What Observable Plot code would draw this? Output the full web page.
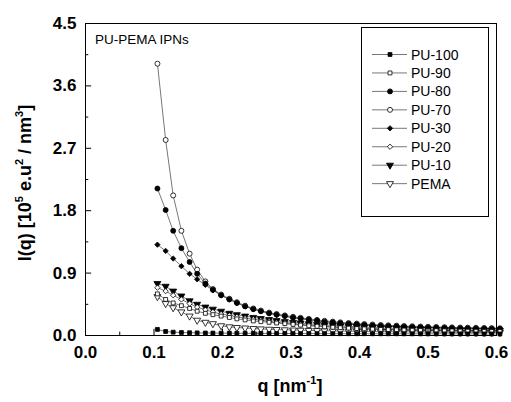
<!DOCTYPE html>
<html><head><meta charset="utf-8">
<script src="https://cdn.jsdelivr.net/npm/d3@7"></script>
<script src="https://cdn.jsdelivr.net/npm/@observablehq/plot@0.6"></script>
<style>body{margin:0;background:#fff;font-family:"Liberation Sans",Arial,sans-serif;}</style>
</head><body><div id="chart"></div>
<script>
const q = [0.105,0.117,0.128,0.140,0.152,0.163,0.175,0.186,0.198,0.210,0.221,0.233,0.245,0.256,0.268,0.279,0.291,0.303,0.314,0.326,0.338,0.349,0.361,0.372,0.384,0.396,0.407,0.419,0.431,0.442,0.454,0.465,0.477,0.489,0.500,0.512,0.524,0.535,0.547,0.558,0.570,0.582,0.593,0.605];
const pu100 = [0.088,0.058,0.048,0.043,0.040,0.038,0.036,0.035,0.034,0.033,0.032,0.031,0.031,0.030,0.030,0.029,0.029,0.028,0.028,0.028,0.027,0.027,0.027,0.026,0.026,0.026,0.026,0.025,0.025,0.025,0.025,0.024,0.024,0.024,0.024,0.024,0.023,0.023,0.023,0.023,0.023,0.022,0.022,0.022];
const pu90 = [0.60,0.52,0.47,0.43,0.39,0.35,0.32,0.30,0.28,0.26,0.24,0.225,0.21,0.20,0.19,0.18,0.17,0.16,0.15,0.14,0.132,0.125,0.118,0.112,0.106,0.1,0.096,0.092,0.088,0.085,0.082,0.079,0.076,0.074,0.072,0.07,0.068,0.066,0.064,0.062,0.061,0.06,0.059,0.058];
const pu80 = [2.12,1.81,1.51,1.26,1.06,0.89,0.75,0.66,0.58,0.52,0.47,0.42,0.38,0.35,0.32,0.30,0.28,0.26,0.245,0.23,0.215,0.20,0.19,0.18,0.17,0.162,0.155,0.148,0.142,0.137,0.132,0.128,0.124,0.12,0.117,0.114,0.111,0.108,0.106,0.104,0.102,0.10,0.098,0.096];
const pu70 = [3.92,2.82,2.02,1.51,1.18,0.95,0.78,0.67,0.59,0.53,0.48,0.43,0.39,0.36,0.33,0.31,0.29,0.27,0.255,0.24,0.225,0.212,0.20,0.19,0.18,0.172,0.165,0.158,0.152,0.147,0.142,0.137,0.133,0.129,0.126,0.123,0.12,0.117,0.115,0.113,0.111,0.109,0.107,0.105];
const pu30 = [1.31,1.22,1.11,1.00,0.89,0.81,0.73,0.65,0.58,0.52,0.47,0.42,0.38,0.35,0.32,0.295,0.275,0.255,0.24,0.225,0.21,0.197,0.185,0.175,0.165,0.157,0.15,0.143,0.137,0.132,0.127,0.122,0.118,0.114,0.111,0.108,0.105,0.102,0.1,0.098,0.096,0.094,0.092,0.09];
const pu20 = [0.69,0.64,0.58,0.52,0.46,0.41,0.37,0.34,0.31,0.29,0.27,0.25,0.235,0.22,0.205,0.19,0.18,0.17,0.16,0.15,0.142,0.135,0.128,0.122,0.116,0.11,0.105,0.1,0.096,0.092,0.089,0.086,0.083,0.08,0.078,0.076,0.074,0.072,0.07,0.068,0.067,0.066,0.065,0.064];
const pu10 = [0.75,0.71,0.64,0.57,0.50,0.45,0.41,0.38,0.35,0.32,0.30,0.28,0.26,0.245,0.23,0.215,0.20,0.19,0.18,0.17,0.16,0.152,0.145,0.138,0.132,0.126,0.12,0.115,0.11,0.106,0.102,0.098,0.095,0.092,0.089,0.086,0.084,0.082,0.08,0.078,0.076,0.075,0.074,0.073];
const pema = [0.56,0.46,0.40,0.34,0.28,0.22,0.19,0.17,0.14,0.125,0.115,0.108,0.10,0.095,0.09,0.086,0.082,0.079,0.076,0.073,0.071,0.068,0.066,0.064,0.062,0.06,0.058,0.056,0.055,0.054,0.053,0.052,0.051,0.05,0.049,0.048,0.047,0.046,0.045,0.045,0.044,0.044,0.043,0.043];

const seriesNames = ["PU-100","PU-90","PU-80","PU-70","PU-30","PU-20","PU-10","PEMA"];
const seriesValues = [pu100, pu90, pu80, pu70, pu30, pu20, pu10, pema];
const xTicks = [0, 0.1, 0.2, 0.3, 0.4, 0.5, 0.6];
const xMinor = [0.05, 0.15, 0.25, 0.35, 0.45, 0.55];
const yTicks = [0, 0.9, 1.8, 2.7, 3.6, 4.5];
const yMinor = [0.45, 1.35, 2.25, 3.15, 4.05];

const styles = {
  "PU-100": {symbol: "square", fill: "black", r: 2.2, rotate: 0},
  "PU-90":  {symbol: "square", fill: "white", r: 2.2, rotate: 0},
  "PU-80":  {symbol: "circle", fill: "black", r: 2.5, rotate: 0},
  "PU-70":  {symbol: "circle", fill: "white", r: 2.5, rotate: 0},
  "PU-30":  {symbol: "diamond2", fill: "black", r: 2.4, rotate: 0},
  "PU-20":  {symbol: "diamond2", fill: "white", r: 2.4, rotate: 0},
  "PU-10":  {symbol: "triangle", fill: "black", r: 2.6, rotate: 180},
  "PEMA":   {symbol: "triangle", fill: "white", r: 2.6, rotate: 180}
};

const rows = seriesNames.flatMap((name, k) => q.map((qq, i) => ({series: name, q: qq, v: seriesValues[k][i]})));

const font = "Liberation Sans, Arial, sans-serif";
const W = 511, H = 402, ML = 85, MR = 15, MT = 23, MB = 67;

const dotMarks = seriesNames.slice().reverse().map(name => {
  const s = styles[name];
  return Plot.dot(rows.filter(d => d.series === name), {
    x: "q", y: "v", symbol: s.symbol, r: s.r, fill: s.fill,
    stroke: "black", strokeWidth: 0.8, rotate: s.rotate
  });
});

const chart = Plot.plot({
  width: W, height: H,
  marginLeft: ML, marginRight: MR, marginTop: MT, marginBottom: MB,
  style: {fontFamily: font, background: "white", overflow: "visible"},
  x: {domain: [0, 0.6]},
  y: {domain: [0, 4.5]},
  marks: [
    Plot.line(rows, {x: "q", y: "v", z: "series", stroke: "#555", strokeWidth: 0.8}),
    ...dotMarks,
    Plot.ruleX(xTicks, {y1: 0, y2: 0.09, stroke: "black"}),
    Plot.ruleX(xMinor, {y1: 0, y2: 0.048, stroke: "black"}),
    Plot.ruleY(yTicks, {x1: 0, x2: 0.009, stroke: "black"}),
    Plot.ruleY(yMinor, {x1: 0, x2: 0.0048, stroke: "black"}),
    Plot.frame({stroke: "black", strokeWidth: 1}),
    Plot.axisX({ticks: xTicks, tickSize: 0, tickPadding: 10, tickFormat: d => d.toFixed(1), fontSize: 17, fontWeight: "bold", label: null, fill: "black"}),
    Plot.axisY({ticks: yTicks, tickSize: 0, tickPadding: 9, tickFormat: d => d.toFixed(1), fontSize: 17, fontWeight: "bold", label: null, fill: "black"})
  ]
});

document.getElementById("chart").appendChild(chart);

const svg = d3.select(chart);
// inner title
svg.append("text").attr("x", 95).attr("y", 44).attr("text-anchor", "start").attr("font-size", 13.5).attr("font-family", font).attr("fill", "black").text("PU-PEMA IPNs");

// x label
const xl = svg.append("text").attr("x", 290).attr("y", 392).attr("text-anchor", "middle")
  .attr("font-size", 18).attr("font-weight", "bold").attr("font-family", font).attr("fill", "black");
xl.append("tspan").text("q [nm");
xl.append("tspan").attr("font-size", 11).attr("dy", -8).text("-1");
xl.append("tspan").attr("dy", 8).text("]");

// y label
const yl = svg.append("text").attr("transform", "translate(31,183) rotate(-90)").attr("text-anchor", "middle")
  .attr("font-size", 18).attr("font-weight", "bold").attr("font-family", font).attr("fill", "black");
yl.append("tspan").text("I(q) [10");
yl.append("tspan").attr("font-size", 11).attr("dy", -8).text("5");
yl.append("tspan").attr("dy", 8).text(" e.u");
yl.append("tspan").attr("font-size", 11).attr("dy", -8).text("2");
yl.append("tspan").attr("dy", 8).text(" / nm");
yl.append("tspan").attr("font-size", 11).attr("dy", -8).text("3");
yl.append("tspan").attr("dy", 8).text("]");

// legend
const lg = svg.append("g");
lg.append("rect").attr("x", 361.5).attr("y", 27.5).attr("width", 127).attr("height", 189)
  .attr("fill", "white").attr("stroke", "black").attr("stroke-width", 1);
const symMap = {square: d3.symbolSquare, circle: d3.symbolCircle, diamond2: d3.symbolDiamond2, triangle: d3.symbolTriangle};
seriesNames.forEach((name, k) => {
  const s = styles[name];
  const yy = 54.5 + k * 18.45;
  lg.append("line").attr("x1", 372).attr("x2", 407).attr("y1", yy).attr("y2", yy).attr("stroke", "#555").attr("stroke-width", 0.8);
  lg.append("path").attr("d", d3.symbol(symMap[s.symbol], Math.PI * s.r * s.r)())
    .attr("transform", `translate(390,${yy}) rotate(${s.rotate})`)
    .attr("fill", s.fill).attr("stroke", "black").attr("stroke-width", 0.8);
  lg.append("text").attr("x", 411).attr("y", yy).attr("dy", "0.36em").attr("text-anchor", "start").attr("font-size", 14)
    .attr("font-family", font).attr("fill", "black").text(name);
});
</script>
</body></html>
